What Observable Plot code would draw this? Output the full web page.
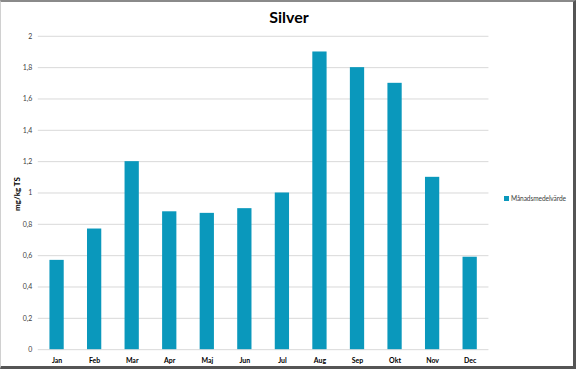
<!DOCTYPE html>
<html>
<head>
<meta charset="utf-8">
<script src="https://cdn.jsdelivr.net/npm/d3@7"></script>
<script src="https://cdn.jsdelivr.net/npm/@observablehq/plot@0.6"></script>
<style>
  html, body { margin: 0; padding: 0; background: #fff; }
  #wrap { position: relative; width: 576px; height: 369px; box-sizing: border-box;
          border-top: 2px solid #8a8a8a; border-right: 3px solid #555; border-bottom: 3px solid #555; border-left: 1px solid #d0d0d0;
          font-family: Lato, "Open Sans", sans-serif; overflow: hidden; }
  #chart { position: absolute; left: -1px; top: -2px; }
  #title { position: absolute; left: 0; width: 576px; top: 5px; text-align: center; font-size: 16px; font-weight: bold; color: #000; }
  #legend { position: absolute; left: 503px; top: 192px; font-size: 6.6px; color: #404040; display: flex; align-items: center; letter-spacing: -0.1px; }
  #legend span.sw { width: 5px; height: 5px; background: #0a98bc; display: inline-block; margin-right: 2px; }
  #ylab { position: absolute; left: 16px; top: 192px; transform: translate(-50%,-50%) rotate(-90deg); font-size: 8px; font-weight: bold; color: #000; white-space: nowrap; }
</style>
</head>
<body>
<div id="wrap">
  <div id="chart"></div>
  <div id="title">Silver</div>
  <div id="ylab">mg/kg TS</div>
  <div id="legend"><span class="sw"></span>Månadsmedelvärde</div>
</div>
<script>
const months = ["Jan","Feb","Mar","Apr","Maj","Jun","Jul","Aug","Sep","Okt","Nov","Dec"];
const values = [0.57, 0.77, 1.2, 0.88, 0.87, 0.9, 1.0, 1.9, 1.8, 1.7, 1.1, 0.59];
const yTicks = [0, 0.2, 0.4, 0.6, 0.8, 1, 1.2, 1.4, 1.6, 1.8, 2];
const seriesName = "Månadsmedelvärde";

const data = months.map((m, i) => ({month: m, value: values[i]}));
const fmt = v => String(Math.round(v * 10) / 10).replace(".", ",");

const chart = Plot.plot({
  width: 576,
  height: 369,
  marginLeft: 38,
  marginRight: 85,
  marginTop: 36,
  marginBottom: 18,
  style: {fontFamily: "Lato, 'Open Sans', sans-serif", background: "transparent"},
  x: {type: "band", domain: months, range: [38, 491], paddingInner: 0.62, paddingOuter: 0.31, round: false, label: null, tickSize: 0},
  y: {domain: [0, 2], ticks: yTicks, tickFormat: fmt, label: null, tickSize: 0},
  marks: [
    Plot.ruleY(yTicks, {stroke: "#d9d9d9", strokeWidth: 1}),
    Plot.barY(data, {x: "month", y: "value", fill: "#0a98bc"}),
    Plot.axisY({ticks: yTicks, tickFormat: fmt, tickSize: 0, tickPadding: 6, fontSize: 7, fill: "#404040", label: null}),
    Plot.axisX({tickSize: 0, tickPadding: 8, fontSize: 7, fontWeight: "bold", fill: "#000", label: null})
  ]
});
document.getElementById("chart").appendChild(chart);
</script>
</body>
</html>
